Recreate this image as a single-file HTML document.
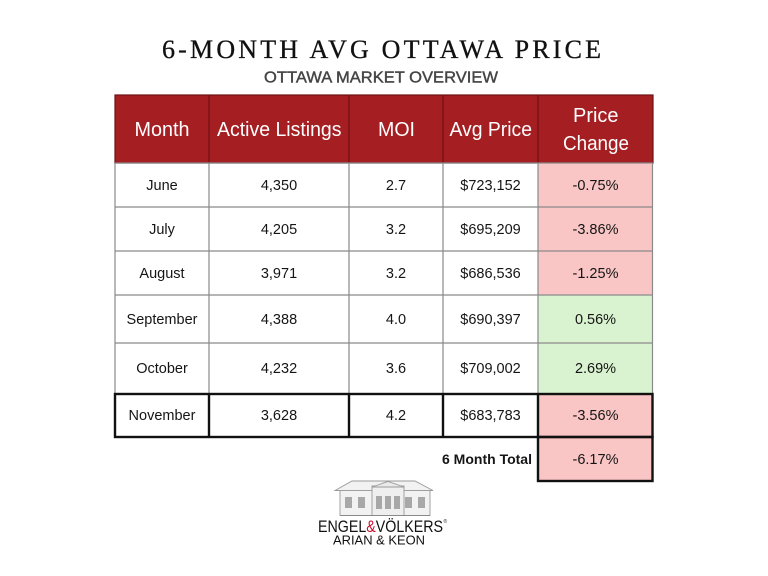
<!DOCTYPE html>
<html>
<head>
<meta charset="utf-8">
<style>
html,body{margin:0;padding:0;background:#fff;}
svg{display:block;}
</style>
</head>
<body>
<svg width="768" height="576" viewBox="0 0 768 576" xmlns="http://www.w3.org/2000/svg">
<rect width="768" height="576" fill="#ffffff"/>
<!-- Title -->
<text x="162" y="58" font-family="Liberation Serif, serif" font-size="26" fill="#111" stroke="#111" stroke-width="0.3" textLength="439" lengthAdjust="spacing">6-MONTH AVG OTTAWA PRICE</text>
<text x="264" y="82.5" font-family="Liberation Sans, sans-serif" font-size="15.5" fill="#454545" stroke="#454545" stroke-width="0.4" textLength="234" lengthAdjust="spacingAndGlyphs">OTTAWA MARKET OVERVIEW</text>

<!-- Header -->
<rect x="115" y="95" width="538" height="68" fill="#a51e22" stroke="#6e1214" stroke-width="1.2"/>
<g stroke="#6e1214" stroke-width="1.2">
<line x1="209" y1="95" x2="209" y2="163"/>
<line x1="349" y1="95" x2="349" y2="163"/>
<line x1="443" y1="95" x2="443" y2="163"/>
<line x1="538" y1="95" x2="538" y2="163"/>
</g>
<g font-family="Liberation Sans, sans-serif" font-size="20" fill="#ffffff">
<text x="134.5" y="136" textLength="55" lengthAdjust="spacingAndGlyphs">Month</text>
<text x="217" y="136" textLength="124.5" lengthAdjust="spacingAndGlyphs">Active Listings</text>
<text x="378" y="136" textLength="37" lengthAdjust="spacingAndGlyphs">MOI</text>
<text x="449.5" y="136" textLength="82.5" lengthAdjust="spacingAndGlyphs">Avg Price</text>
<text x="573" y="122" textLength="45.5" lengthAdjust="spacingAndGlyphs">Price</text>
<text x="563" y="150" textLength="66" lengthAdjust="spacingAndGlyphs">Change</text>
</g>

<!-- Fills -->
<rect x="538" y="163" width="115" height="132" fill="#f9c5c5"/>
<rect x="538" y="295" width="115" height="99" fill="#d9f2cf"/>
<rect x="538" y="394" width="115" height="87" fill="#f9c5c5"/>

<!-- Gray grid -->
<g stroke="#8a8a8a" stroke-width="1.2">
<line x1="115" y1="163" x2="653" y2="163"/>
<line x1="115" y1="207" x2="653" y2="207"/>
<line x1="115" y1="251" x2="653" y2="251"/>
<line x1="115" y1="295" x2="653" y2="295"/>
<line x1="115" y1="343" x2="653" y2="343"/>
<line x1="115" y1="163" x2="115" y2="394"/>
<line x1="209" y1="163" x2="209" y2="394"/>
<line x1="349" y1="163" x2="349" y2="394"/>
<line x1="443" y1="163" x2="443" y2="394"/>
<line x1="538" y1="163" x2="538" y2="394"/>
<line x1="652.5" y1="163" x2="652.5" y2="394"/>
</g>

<!-- Thick black borders -->
<g stroke="#111" stroke-width="2.4" fill="none">
<rect x="115" y="394" width="537.5" height="43"/>
<line x1="209" y1="394" x2="209" y2="437"/>
<line x1="349" y1="394" x2="349" y2="437"/>
<line x1="443" y1="394" x2="443" y2="437"/>
<line x1="538" y1="394" x2="538" y2="437"/>
<rect x="538" y="437" width="114.5" height="44"/>
</g>

<!-- Body text -->
<g font-family="Liberation Sans, sans-serif" font-size="14.5" fill="#151515" text-anchor="middle">
<text x="162" y="190">June</text>
<text x="279" y="190">4,350</text>
<text x="396" y="190">2.7</text>
<text x="490.5" y="190">$723,152</text>
<text x="595.5" y="190">-0.75%</text>

<text x="162" y="234">July</text>
<text x="279" y="234">4,205</text>
<text x="396" y="234">3.2</text>
<text x="490.5" y="234">$695,209</text>
<text x="595.5" y="234">-3.86%</text>

<text x="162" y="278">August</text>
<text x="279" y="278">3,971</text>
<text x="396" y="278">3.2</text>
<text x="490.5" y="278">$686,536</text>
<text x="595.5" y="278">-1.25%</text>

<text x="162" y="324">September</text>
<text x="279" y="324">4,388</text>
<text x="396" y="324">4.0</text>
<text x="490.5" y="324">$690,397</text>
<text x="595.5" y="324">0.56%</text>

<text x="162" y="373">October</text>
<text x="279" y="373">4,232</text>
<text x="396" y="373">3.6</text>
<text x="490.5" y="373">$709,002</text>
<text x="595.5" y="373">2.69%</text>

<text x="162" y="420">November</text>
<text x="279" y="420">3,628</text>
<text x="396" y="420">4.2</text>
<text x="490.5" y="420">$683,783</text>
<text x="595.5" y="420">-3.56%</text>

<text x="595.5" y="464">-6.17%</text>
</g>
<text x="442" y="464" font-family="Liberation Sans, sans-serif" font-size="14" font-weight="bold" fill="#151515" textLength="90" lengthAdjust="spacingAndGlyphs">6 Month Total</text>

<!-- Logo house -->
<g stroke="#9a9a9a" stroke-width="0.9" fill="#f2f2f2">
<polygon points="352,481 415,481 433,490.5 335,490.5"/>
<rect x="340" y="490.5" width="90" height="25"/>
<rect x="372" y="486" width="32" height="29.5" fill="#efefef"/>
<polygon points="372,487 388,481.5 404,487" fill="#eaeaea"/>
</g>
<g fill="#a8a8a8">
<rect x="345" y="497" width="7" height="11"/>
<rect x="358" y="497" width="7" height="11"/>
<rect x="376" y="496" width="6" height="13"/>
<rect x="385" y="496" width="6" height="13"/>
<rect x="394" y="496" width="6" height="13"/>
<rect x="405" y="497" width="7" height="11"/>
<rect x="418" y="497" width="7" height="11"/>
</g>
<line x1="340" y1="515.5" x2="430" y2="515.5" stroke="#8a8a8a" stroke-width="1"/>

<!-- Logo text -->
<text x="318" y="532" font-family="Liberation Sans, sans-serif" font-size="16.5" fill="#111" textLength="125" lengthAdjust="spacingAndGlyphs">ENGEL<tspan fill="#c8102e">&amp;</tspan>VÖLKERS</text>
<text x="443.5" y="523" font-family="Liberation Sans, sans-serif" font-size="5" fill="#333">®</text>
<text x="333" y="544.5" font-family="Liberation Sans, sans-serif" font-size="13" fill="#111" textLength="92" lengthAdjust="spacingAndGlyphs">ARIAN &amp; KEON</text>
</svg>
</body>
</html>
